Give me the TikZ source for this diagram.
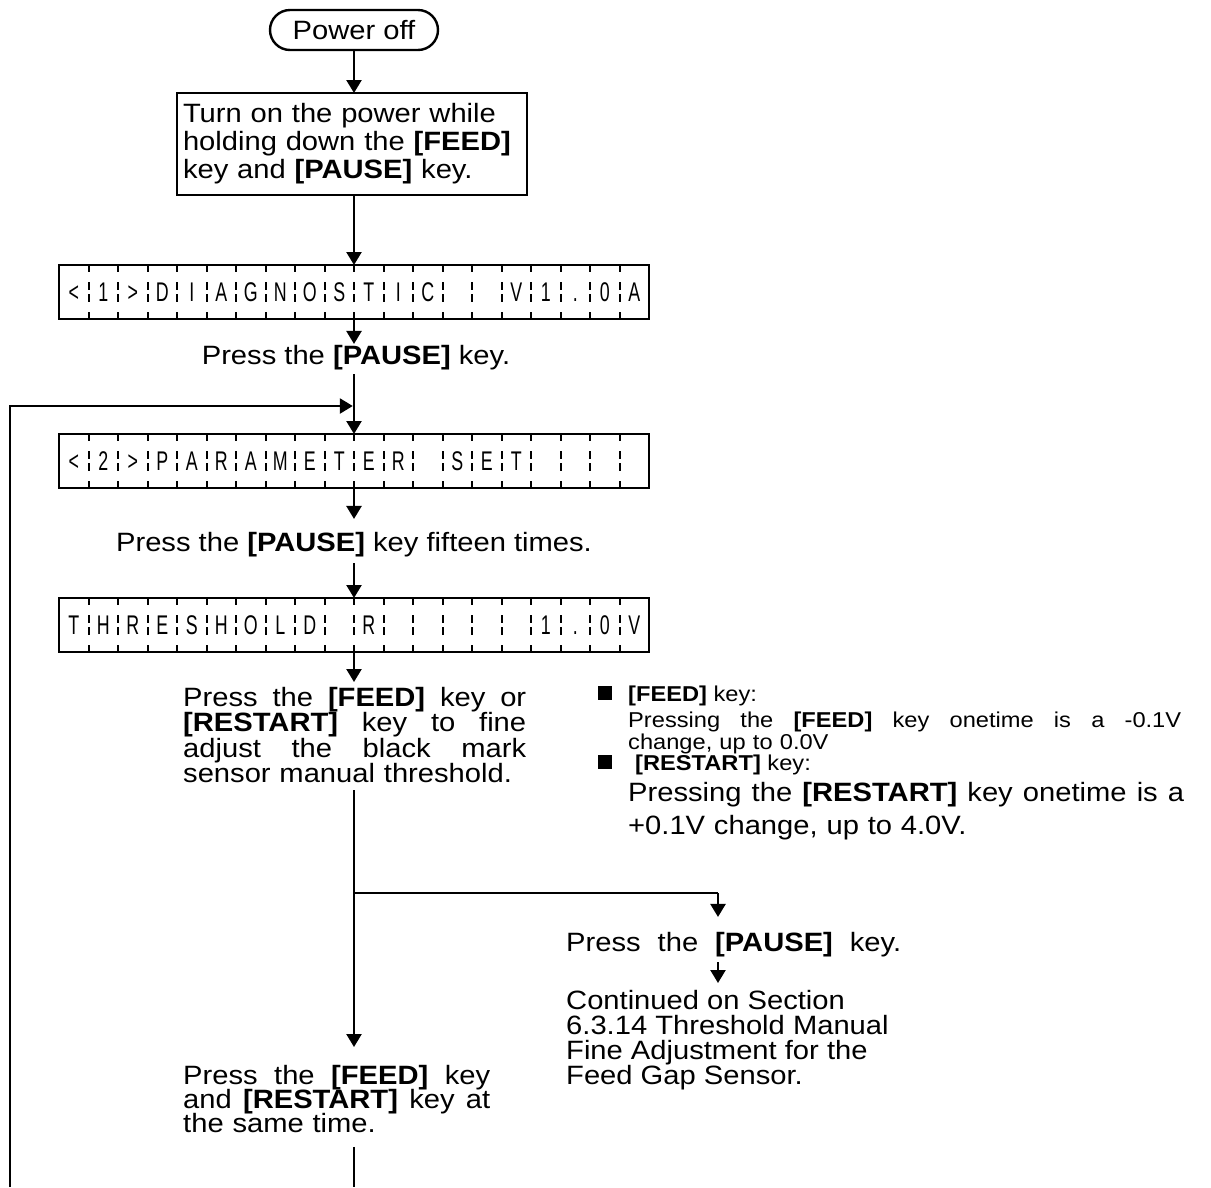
\documentclass[tikz,border=0pt]{standalone}
\usepackage{fontspec}
\setmainfont{Liberation Sans}[FakeStretch=1.1]
\newfontfamily\lcdfont[FakeStretch=0.66]{Liberation Sans}
\usetikzlibrary{arrows.meta,shapes.misc}
\newcommand\mainsz{\fontsize{26.5}{28}\selectfont}
\newcommand\tightsz[1]{\fontsize{26.5}{#1}\selectfont\lineskiplimit=-100pt}
\newcommand\smallsz{\fontsize{21.5}{22}\selectfont\lineskiplimit=-100pt}
\newcommand\jl[2]{\makebox[#1][s]{\spaceskip=.28em plus 1fil\xspaceskip=\spaceskip #2}}
\newcommand\lcdrow[3]{%
  \node[lcdbox] (#1) at (354,#2) {};
  \foreach \c [count=\i] in {#3} {
    \node[lcdchar] (#1c\i) at ([xshift={(\i-0.5)*29.5pt},yshift=-9.6pt]#1.west) {\c};
  }
  \foreach \i in {1,...,19} {
    \draw[tick] ([xshift={\i*29.5pt}]#1.north west) -- ++(0,7);
    \draw[tick] ([xshift={\i*29.5pt}]#1.south west) -- ++(0,-7);
    \draw[tick, dash pattern=on 8pt off 4pt] ([xshift={\i*29.5pt},yshift=10pt]#1.west) -- ++(0,20);
  }
}
\begin{document}
\begin{tikzpicture}[x=1pt,y=-1pt, line width=2.4pt,
  arr/.style={-{Triangle[length=13pt,width=15pt]}},
  txt/.style={inner sep=0pt, font=\mainsz},
  box/.style={draw, inner sep=0pt, outer sep=0pt},
  lcdbox/.style={draw, minimum width=590pt, minimum height=54pt, inner sep=0pt, outer sep=0pt},
  lcdchar/.style={inner sep=0pt, anchor=base, font=\lcdfont\fontsize{27}{27}\selectfont},
  tick/.style={line width=2pt},
  sq/.style={fill=black, minimum size=14pt, inner sep=0pt, outer sep=0pt},
]
\fill[white] (0,0) rectangle (1211,1187);
\useasboundingbox (0,0) rectangle (1211,1187);

% Power off
\node[draw, rounded rectangle, minimum width=168pt, minimum height=40pt, inner sep=0pt, outer sep=0pt, font=\mainsz] (po) at (354,30) {Power off};

% first box
\node[box, anchor=north west, minimum width=350pt, minimum height=102pt, text width=338pt, align=left, inner xsep=6pt, font=\mainsz] (b1) at (177,93)
 {Turn on the power while\\holding down the \textbf{[FEED]}\\key and \textbf{[PAUSE]} key.};

% LCD rows
\lcdrow{lcda}{292}{<,1,>,D,I,A,G,N,O,S,T,I,C,{},{},V,1,.,0,A}
\lcdrow{lcdb}{461}{<,2,>,P,A,R,A,M,E,T,E,R,{},S,E,T,{},{},{},{}}
\lcdrow{lcdc}{625}{T,H,R,E,S,H,O,L,D,{},R,{},{},{},{},{},1,.,0,V}

% texts
\node[txt] (t1) at (356,358) {Press the \textbf{[PAUSE]} key.};
\node[txt] (t2) at (354,545) {Press the \textbf{[PAUSE]} key fifteen times.};
\node[txt, anchor=north west, align=left, text width=343pt, font={\tightsz{25.5}}] (t3) at (182,685.7)
 {\jl{343pt}{Press the \textbf{[FEED]} key or}\\
  \jl{343pt}{\textbf{[RESTART]} key to fine}\\
  \jl{343pt}{adjust the black mark}\\
  sensor manual threshold.};
\node[txt, anchor=west] (t4) at (565,945) {\jl{335pt}{Press the \textbf{[PAUSE]} key.}};
\node[txt, anchor=north west, align=left, font={\tightsz{25}}] (t5) at (565,988.7)
 {Continued on Section\\6.3.14 Threshold Manual\\Fine Adjustment for the\\Feed Gap Sensor.};
\node[txt, anchor=north west, align=left, text width=307pt, font={\tightsz{24}}] (t6) at (182,1063.7)
 {\jl{307pt}{Press the \textbf{[FEED]} key}\\
  \jl{307pt}{and \textbf{[RESTART]} key at}\\
  the same time.};

% right column notes
\node[sq] (sq1) at (605,693) {};
\node[inner sep=0pt, anchor=base west, font=\smallsz] (r1) at (627,701) {\textbf{[FEED]} key:};
\node[inner sep=0pt, anchor=north west, align=left, text width=553pt, font=\smallsz] (r2) at (627,710.3)
 {\jl{553pt}{Pressing the \textbf{[FEED]} key onetime is a -0.1V}\\change, up to 0.0V};
\node[sq] (sq2) at (605,762) {};
\node[inner sep=0pt, anchor=base west, font=\smallsz] (r3) at (634,770) {\textbf{[RESTART]} key:};
\node[inner sep=0pt, anchor=north west, align=left, text width=556pt, font={\tightsz{33}}] (r4) at (627,780.7)
 {\jl{556pt}{Pressing the \textbf{[RESTART]} key onetime is a}\\+0.1V change, up to 4.0V.};

% coordinates
\coordinate (br) at (354,893);
\coordinate (bk) at (718,893);
\coordinate (fb0) at (10,1187);
\coordinate (fbj) at (354,406);
\coordinate (bot) at (354,1187);

% connectors
\draw[arr] (po.south) -- (po.south |- b1.north);
\draw[arr] (lcda.north |- b1.south) -- (lcda.north);
\draw[arr, shorten >=0.5pt] (lcda.south) -- (lcda.south |- t1.north);
\draw[arr, shorten <=2.5pt] (lcdb.north |- t1.south) -- (lcdb.north);
\draw[arr, shorten >=12.5pt] (lcdb.south) -- (lcdb.south |- t2.north);
\draw[arr, shorten <=4.5pt] (lcdc.north |- t2.south) -- (lcdc.north);
\draw[arr, shorten >=3.7pt] (lcdc.south) -- (lcdc.south |- t3.north);
\draw[arr, shorten <=6pt, shorten >=16.7pt] (br |- t3.south) -- (br |- t6.north);
\draw (br) -- (bk);
\draw[arr, shorten >=14.5pt] (bk) -- (bk |- t4.north);
\draw[arr, shorten <=3.5pt, shorten >=5.7pt] (bk |- t4.south) -- (bk |- t5.north);
\draw[shorten <=13.4pt] (bot |- t6.south) -- (bot);
\draw[arr, shorten >=1.2pt] (fb0) |- (fbj);
\end{tikzpicture}
\end{document}
